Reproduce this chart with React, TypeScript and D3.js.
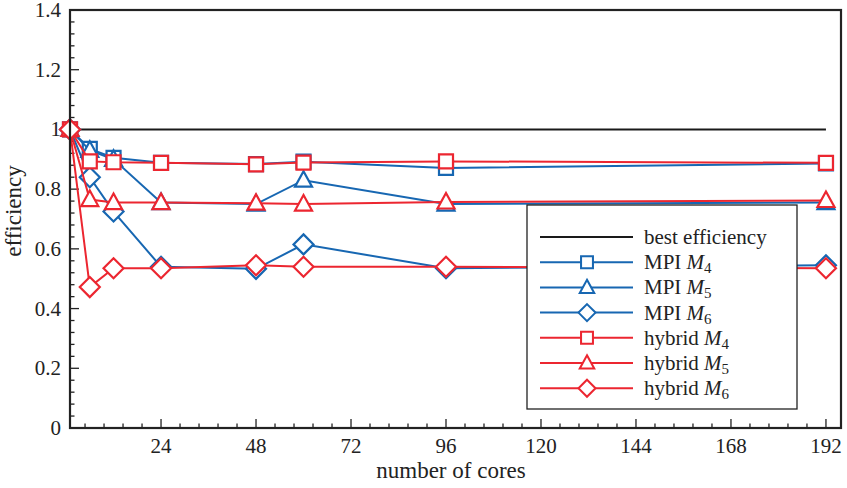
import React from 'react';
import * as d3 from 'd3';

const cores = [1, 6, 12, 24, 48, 60, 96, 192];
const mpiM4 = [1, 0.935, 0.905, 0.888, 0.884, 0.892, 0.871, 0.886];
const mpiM5 = [1, 0.93, 0.9, 0.755, 0.75, 0.83, 0.75, 0.755];
const mpiM6 = [1, 0.84, 0.725, 0.54, 0.533, 0.615, 0.535, 0.545];
const hybM4 = [1, 0.893, 0.89, 0.888, 0.883, 0.889, 0.893, 0.888];
const hybM5 = [1, 0.765, 0.755, 0.755, 0.753, 0.75, 0.757, 0.762];
const hybM6 = [1, 0.472, 0.535, 0.535, 0.545, 0.54, 0.54, 0.535];
const xTicks = [24, 48, 72, 96, 120, 144, 168, 192];
const yTicks = [0, 0.2, 0.4, 0.6, 0.8, 1, 1.2, 1.4];

const BLUE = '#1767b2';
const RED = '#ec2630';
const INK = '#222';
const FONT = 'Liberation Serif';

type Series = { name: string; sub: string; values: number[]; color: string; marker: string };

const series: Series[] = [
  { name: 'MPI', sub: '4', values: mpiM4, color: BLUE, marker: 'square' },
  { name: 'MPI', sub: '5', values: mpiM5, color: BLUE, marker: 'triangle' },
  { name: 'MPI', sub: '6', values: mpiM6, color: BLUE, marker: 'diamond' },
  { name: 'hybrid', sub: '4', values: hybM4, color: RED, marker: 'square' },
  { name: 'hybrid', sub: '5', values: hybM5, color: RED, marker: 'triangle' },
  { name: 'hybrid', sub: '6', values: hybM6, color: RED, marker: 'diamond' },
];

function markerPath(kind: string): string {
  if (kind === 'square') return 'M-7,-7H7V7H-7Z';
  if (kind === 'triangle') return 'M0,-9L8.5,6.5H-8.5Z';
  return 'M0,-10L10,0L0,10L-10,0Z';
}

const left = 70, right = 841, top = 10, bottom = 428;
const x = d3.scaleLinear().domain([1, 195.8]).range([left, right]);
const y = d3.scaleLinear().domain([0, 1.4]).range([bottom, top]);

// 4 minor ticks between majors
const xMinor = d3.range(4.8, 195, 4.8).filter(v => Math.abs(v / 24 - Math.round(v / 24)) > 1e-6);
const yMinor = d3.range(0.04, 1.4, 0.04).filter(v => Math.abs(v / 0.2 - Math.round(v / 0.2)) > 1e-6);

const line = d3.line<number>().x((_, i) => x(cores[i])).y(d => y(d));
const rowY = (i: number) => 237 + i * 25.2;

const App = () => (
  <svg width={847} height={488}
    style={{ position: 'absolute', left: 0, top: 0, background: 'white' }}>
    <g stroke={INK} strokeWidth={1.3}>
      {xMinor.map(v => <line key={'xm' + v} x1={x(v)} x2={x(v)} y1={bottom} y2={bottom - 4.5} />)}
      {xTicks.map(v => <line key={'xM' + v} x1={x(v)} x2={x(v)} y1={bottom} y2={bottom - 9} />)}
      {yMinor.map(v => <line key={'ym' + v} x1={left} x2={left + 4.5} y1={y(v)} y2={y(v)} />)}
      {yTicks.map(v => <line key={'yM' + v} x1={left} x2={left + 9} y1={y(v)} y2={y(v)} />)}
    </g>

    {xTicks.map(v => (
      <text key={'xl' + v} x={x(v)} y={453} textAnchor="middle" fontFamily={FONT} fontSize={21} fill={INK}>{v}</text>
    ))}
    {yTicks.map(v => (
      <text key={'yl' + v} x={61} y={y(v) + 7} textAnchor="end" fontFamily={FONT} fontSize={21} fill={INK}>
        {v === 0 ? '0' : v === 1 ? '1' : d3.format('.1f')(v)}
      </text>
    ))}

    <text x={451} y={478} textAnchor="middle" fontFamily={FONT} fontSize={23} fill={INK}>number of cores</text>
    <text transform="translate(21,211) rotate(-90)" textAnchor="middle" fontFamily={FONT} fontSize={23} fill={INK}>efficiency</text>

    <line x1={x(cores[0])} x2={x(cores[cores.length - 1])} y1={y(1)} y2={y(1)} stroke="#1a1a1a" strokeWidth={2} />

    {series.map((s, k) => (
      <g key={'s' + k}>
        <path d={line(s.values) || ''} fill="none" stroke={s.color} strokeWidth={2} />
        {s.values.map((v, i) => (
          <path key={i} d={markerPath(s.marker)} transform={`translate(${x(cores[i])},${y(v)})`}
            fill="white" stroke={s.color} strokeWidth={2.2} />
        ))}
      </g>
    ))}

    <rect x={left} y={top} width={right - left} height={bottom - top} fill="none" stroke={INK} strokeWidth={2.2} />

    <g>
      <rect x={527} y={205} width={270} height={204} fill="white" stroke={INK} strokeWidth={1.3} />
      <line x1={540} x2={633} y1={rowY(0)} y2={rowY(0)} stroke="#1a1a1a" strokeWidth={2} />
      <text x={644} y={rowY(0) + 7} fontFamily={FONT} fontSize={21} fill={INK}>best efficiency</text>
      {series.map((s, k) => {
        const yy = rowY(k + 1);
        return (
          <g key={'l' + k}>
            <line x1={540} x2={633} y1={yy} y2={yy} stroke={s.color} strokeWidth={2} />
            <path d={markerPath(s.marker)} transform={`translate(587,${yy}) scale(0.85)`}
              fill="white" stroke={s.color} strokeWidth={2.4} />
            <text x={644} y={yy + 7} fontFamily={FONT} fontSize={21} fill={INK}>
              {s.name + ' '}
              <tspan fontStyle="italic">M</tspan>
              <tspan fontSize={15} dy={4}>{s.sub}</tspan>
            </text>
          </g>
        );
      })}
    </g>
  </svg>
);

export default App;
